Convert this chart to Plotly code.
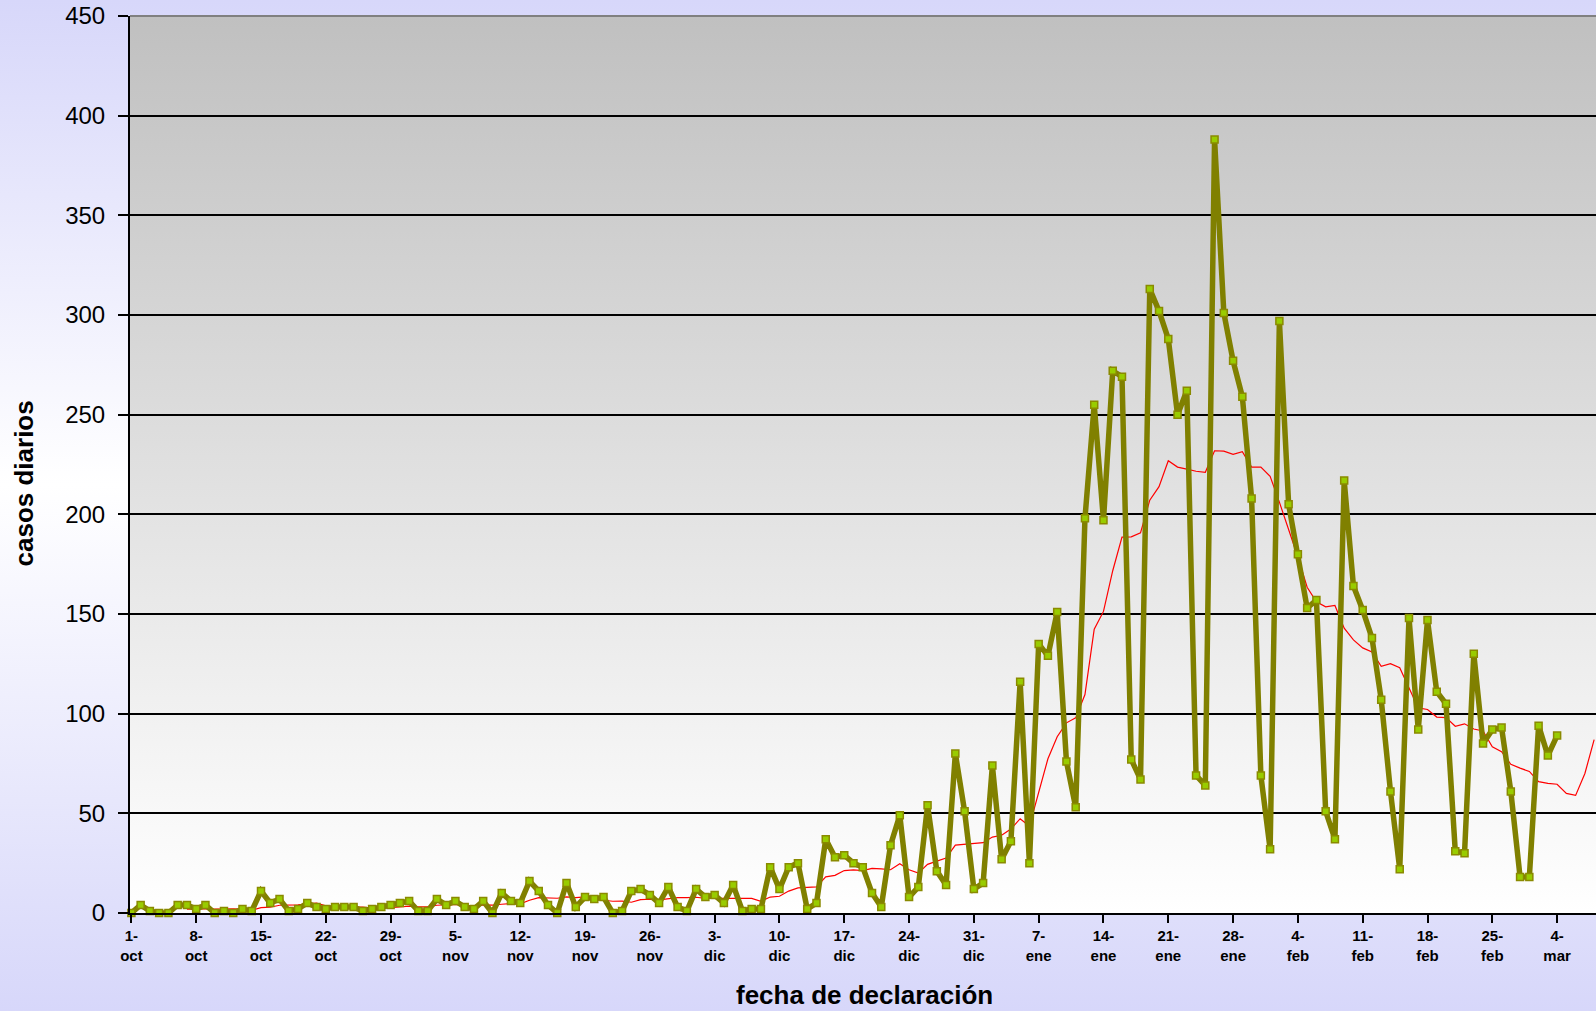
import base64
import plotly.graph_objects as go

# ---------------- data ----------------
tick_labels = ["1-<br>oct", "8-<br>oct", "15-<br>oct", "22-<br>oct", "29-<br>oct",
               "5-<br>nov", "12-<br>nov", "19-<br>nov", "26-<br>nov",
               "3-<br>dic", "10-<br>dic", "17-<br>dic", "24-<br>dic", "31-<br>dic",
               "7-<br>ene", "14-<br>ene", "21-<br>ene", "28-<br>ene",
               "4-<br>feb", "11-<br>feb", "18-<br>feb", "25-<br>feb", "4-<br>mar"]

casos_diarios = [0, 4, 1, 0, 0, 4, 4, 2, 4, 0, 1, 0, 2, 1, 11, 5, 7, 1, 2, 5,
                 3, 2, 3, 3, 3, 1, 2, 3, 4, 5, 6, 1, 1, 7, 4, 6, 3, 2, 6, 0,
                 10, 6, 5, 16, 11, 4, 0, 15, 3, 8, 7, 8, 0, 1, 11, 12, 9, 5, 13, 3,
                 1, 12, 8, 9, 5, 14, 1, 2, 2, 23, 12, 23, 25, 2, 5, 37, 28, 29, 25, 23,
                 10, 3, 34, 49, 8, 13, 54, 21, 14, 80, 51, 12, 15, 74, 27, 36, 116, 25, 135, 129,
                 151, 76, 53, 198, 255, 197, 272, 269, 77, 67, 313, 302, 288, 250, 262, 69, 64, 388, 301, 277,
                 259, 208, 69, 32, 297, 205, 180, 153, 157, 51, 37, 217, 164, 152, 138, 107, 61, 22, 148, 92,
                 147, 111, 105, 31, 30, 130, 85, 92, 93, 61, 18, 18, 94, 79, 89]

media_movil = [None, None, None, None, None, None,
               1.9, 2.1, 2.1, 2.0, 2.1, 2.1, 1.9, 1.4, 2.7, 2.9, 3.9, 3.9, 4.1, 4.6,
               4.9, 3.6, 3.3, 2.7, 3.0, 2.9, 2.4, 2.4, 2.7, 3.0, 3.4, 3.1, 3.1, 3.9,
               4.0, 4.3, 4.0, 3.4, 4.1, 4.0, 4.4, 4.7, 4.6, 6.4, 7.7, 7.4, 7.4, 8.1,
               7.7, 8.1, 6.9, 6.4, 5.9, 6.0, 5.4, 6.7, 6.9, 6.6, 7.3, 7.7, 7.7, 7.9,
               7.3, 7.3, 7.3, 7.4, 7.1, 7.3, 5.9, 8.0, 8.4, 11.0, 12.6, 12.7, 13.1, 18.1,
               18.9, 21.3, 21.6, 21.3, 22.4, 22.1, 21.7, 24.7, 21.7, 20.0, 24.4, 26.0, 27.6, 34.1,
               34.4, 35.0, 35.3, 38.1, 39.0, 42.1, 47.3, 43.6, 61.1, 77.4, 88.4, 95.4, 97.9, 109.6,
               142.4, 151.3, 171.7, 188.6, 188.7, 190.7, 207.1, 213.9, 226.9, 223.7, 222.7, 221.6,
               221.1, 231.9, 231.7, 230.1, 231.4, 223.7, 223.7, 219.1, 206.1, 192.4, 178.6, 163.4,
               156.1, 153.6, 154.3, 142.9, 137.0, 133.0, 130.9, 123.7, 125.1, 123.0, 113.1, 102.9,
               102.1, 98.3, 98.0, 93.7, 94.9, 92.3, 91.3, 83.4, 80.9, 74.6, 72.7, 71.0,
               65.9, 65.0, 64.6, 60, 59, 70, 87]

y_ticks = [0, 50, 100, 150, 200, 250, 300, 350, 400, 450]

# ---------------- layout constants ----------------
W, H = 1596, 1011
ML, MR, MT, MB = 130, 0, 16, 98
PW, PH = W - ML - MR, H - MT - MB
FONT = "Liberation Sans, Arial, sans-serif"


def svg_gradient(stops):
    s = "".join(f'<stop offset="{o}" stop-color="{c}"/>' for o, c in stops)
    svg = ('<svg xmlns="http://www.w3.org/2000/svg" width="100" height="100" '
           'viewBox="0 0 100 100" preserveAspectRatio="none">'
           '<defs><linearGradient id="g" x1="0" y1="0" x2="0" y2="1">' + s +
           '</linearGradient></defs><rect x="0" y="0" width="100" height="100" fill="url(#g)"/></svg>')
    return "data:image/svg+xml;base64," + base64.b64encode(svg.encode()).decode()


page_bg = svg_gradient([(0, "#d7d7fa"), (0.48, "#ffffff"), (1, "#d7d7fa")])
plot_bg = svg_gradient([(0, "#c0c0c0"), (1, "#ffffff")])

x_casos = list(range(len(casos_diarios)))
x_media = list(range(len(media_movil)))
tick_pos = [x_casos[0] + 7 * i for i in range(len(tick_labels))]

fig = go.Figure()

fig.add_trace(go.Scatter(
    x=x_media, y=media_movil, mode="lines",
    line=dict(color="#ff0000", width=1.2),
    hoverinfo="skip", cliponaxis=True, showlegend=False))

fig.add_trace(go.Scatter(
    x=x_casos, y=casos_diarios, mode="lines+markers",
    line=dict(color="#808000", width=5.5),
    marker=dict(symbol="square", size=7, color="#99cc00",
                line=dict(color="#8a8a00", width=1.5)),
    cliponaxis=False, showlegend=False))

fig.update_layout(
    width=W, height=H,
    margin=dict(l=ML, r=MR, t=MT, b=MB, pad=0),
    paper_bgcolor="#ffffff",
    plot_bgcolor="rgba(0,0,0,0)",
    font=dict(family=FONT, color="#000000"),
    showlegend=False,
    images=[
        dict(source=page_bg, xref="paper", yref="paper",
             x=-ML / PW, y=1 + MT / PH, sizex=W / PW, sizey=H / PH,
             xanchor="left", yanchor="top", sizing="stretch", layer="below"),
        dict(source=plot_bg, xref="paper", yref="paper",
             x=0, y=1, sizex=1, sizey=1,
             xanchor="left", yanchor="top", sizing="stretch", layer="below"),
    ],
    xaxis=dict(
        range=[-0.15, 158.2], showgrid=False, zeroline=False,
        tickmode="array", tickvals=tick_pos, ticktext=tick_labels,
        ticks="outside", ticklen=8, tickwidth=2, tickcolor="#000000",
        showline=True, linecolor="#000000", linewidth=2,
        tickfont=dict(family=FONT, size=15, color="#000000", weight="bold"),
        fixedrange=True),
    yaxis=dict(
        range=[0, 450], tickmode="array", tickvals=y_ticks,
        showgrid=True, gridcolor="#000000", gridwidth=2, zeroline=False,
        ticks="outside", ticklen=10, tickwidth=1.5, tickcolor="#000000",
        ticklabelstandoff=8,
        showline=True, linecolor="#000000", linewidth=2,
        tickfont=dict(family=FONT, size=24, color="#000000"),
        fixedrange=True),
    shapes=[dict(type="line", xref="paper", yref="paper", x0=0, x1=1, y0=1, y1=1,
                 line=dict(color="#808080", width=2), layer="between")],
    annotations=[
        dict(text="casos diarios", xref="paper", yref="paper",
             x=(23.5 - ML) / PW, y=(MT + PH - 484) / PH, textangle=-90,
             xanchor="center", yanchor="middle", showarrow=False,
             font=dict(family=FONT, size=26, color="#000000", weight="bold")),
        dict(text="fecha de declaración", xref="paper", yref="paper",
             x=(864 - ML) / PW, y=(MT + PH - 995) / PH,
             xanchor="center", yanchor="middle", showarrow=False,
             font=dict(family=FONT, size=26, color="#000000", weight="bold")),
    ],
)

fig.write_html(
    "out.html",
    config={"displayModeBar": False},
    post_script="document.body.style.margin='0';document.body.style.overflow='hidden';",
)
